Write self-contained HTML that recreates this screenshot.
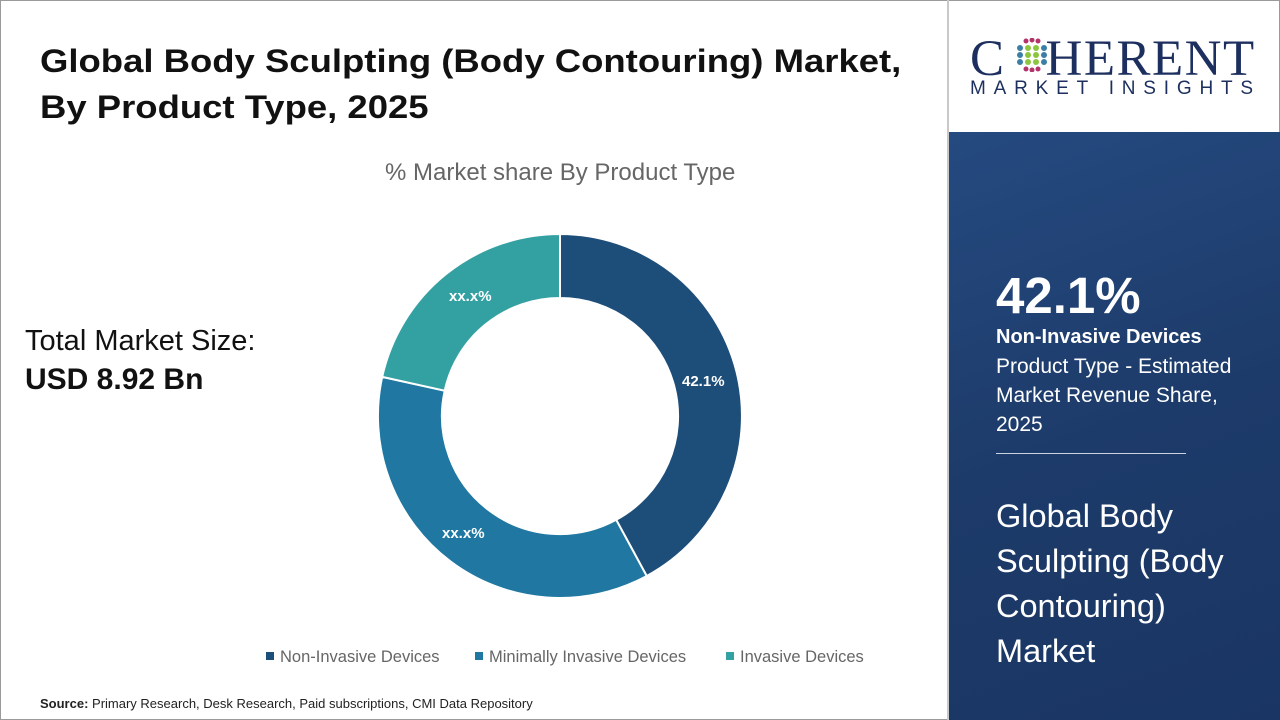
<!DOCTYPE html>
<html><head><meta charset="utf-8"><style>
body{margin:0;width:1280px;height:720px;overflow:hidden;background:#fff;font-family:"Liberation Sans","DejaVu Sans",sans-serif;position:relative}
.frame{position:absolute;left:0;top:0;width:1278px;height:718px;border:1px solid #9a9a9a}
.t{position:absolute;white-space:nowrap}
.right{position:absolute;left:949px;top:132px;width:331px;height:588px;background:linear-gradient(160deg,#254a80 0%,#1d3b6a 50%,#1a3563 100%)}
.sep{position:absolute;left:947px;top:0;width:2px;height:720px;background:#c8c8c8}
</style></head><body>
<div class="frame"></div>
<div class="sep"></div>
<div class="t" style="left:40px;top:38px;font-size:32px;font-weight:bold;color:#111;line-height:46px;transform:scaleX(1.14);transform-origin:0 0">Global Body Sculpting (Body Contouring) Market,<br>By Product Type, 2025</div>
<div class="t" style="left:385px;top:159px;font-size:24px;color:#666">% Market share By Product Type</div>
<div class="t" style="left:25px;top:325px;font-size:29px;color:#111">Total Market Size:</div>
<div class="t" style="left:25px;top:363px;font-size:30px;font-weight:bold;color:#111">USD 8.92 Bn</div>
<svg style="position:absolute;left:0;top:0" width="948" height="720">
<path d="M560,234 A182,182 0 0 1 646.7,576 L616.2,519.8 A118,118 0 0 0 560,298 Z" fill="#1d4e79" stroke="#fff" stroke-width="2"/>
<path d="M646.7,576 A182,182 0 0 1 382.2,376.9 L444.7,390.7 A118,118 0 0 0 616.2,519.8 Z" fill="#1f77a2" stroke="#fff" stroke-width="2"/>
<path d="M382.2,376.9 A182,182 0 0 1 560,234 L560,298 A118,118 0 0 0 444.7,390.7 Z" fill="#33a0a2" stroke="#fff" stroke-width="2"/>
<g font-family="Liberation Sans,sans-serif" font-weight="bold" font-size="15" fill="#fff">
<text x="682" y="386">42.1%</text>
<text x="449" y="301">xx.x%</text>
<text x="442" y="538">xx.x%</text>
</g>
<g font-family="Liberation Sans,sans-serif" font-size="16.5" fill="#666">
<rect x="266" y="652" width="8" height="8" fill="#1d4e79"/><text x="280" y="662">Non-Invasive Devices</text>
<rect x="475" y="652" width="8" height="8" fill="#1f77a2"/><text x="489" y="662">Minimally Invasive Devices</text>
<rect x="726" y="652" width="8" height="8" fill="#33a0a2"/><text x="740" y="662">Invasive Devices</text>
</g>
<text x="40" y="708" font-family="Liberation Sans,sans-serif" font-size="13" fill="#222"><tspan font-weight="bold">Source:</tspan> Primary Research, Desk Research, Paid subscriptions, CMI Data Repository</text>
</svg>
<div class="t" style="left:970px;top:30px;font-family:'Liberation Serif',serif;font-size:51px;color:#1c2f5e;letter-spacing:1.5px">C<span style="display:inline-block;width:40px"></span>HERENT</div>
<svg style="position:absolute;left:1012px;top:38px" width="40" height="34">
<g fill="#3c7fa6"><circle cx="8" cy="10" r="3"/><circle cx="8" cy="17" r="3"/><circle cx="8" cy="24" r="3"/><circle cx="32" cy="10" r="3"/><circle cx="32" cy="17" r="3"/><circle cx="32" cy="24" r="3"/></g>
<g fill="#8cc63e"><circle cx="16" cy="10" r="3"/><circle cx="24" cy="10" r="3"/><circle cx="16" cy="17" r="3"/><circle cx="24" cy="17" r="3"/><circle cx="16" cy="24" r="3"/><circle cx="24" cy="24" r="3"/></g>
<g fill="#b4336b"><circle cx="14" cy="3" r="2.5"/><circle cx="20" cy="2" r="2.5"/><circle cx="26" cy="3" r="2.5"/><circle cx="14" cy="31" r="2.5"/><circle cx="20" cy="32" r="2.5"/><circle cx="26" cy="31" r="2.5"/></g>
</svg>
<div class="t" style="left:970px;top:78px;font-size:19px;color:#1c2f5e;letter-spacing:7.8px">MARKET INSIGHTS</div>
<div class="right"></div>
<div class="t" style="left:996px;top:266px;font-size:51px;font-weight:bold;color:#fff">42.1%</div>
<div class="t" style="left:996px;top:326px;font-size:20px;font-weight:bold;color:#fff">Non-Invasive Devices</div>
<div class="t" style="left:996px;top:352px;font-size:21px;color:#fff;line-height:29px">Product Type - Estimated<br>Market Revenue Share,<br>2025</div>
<div style="position:absolute;left:996px;top:453px;width:190px;height:1px;background:#c9d3e2"></div>
<div class="t" style="left:996px;top:494px;font-size:32.5px;color:#fff;line-height:45px">Global Body<br>Sculpting (Body<br>Contouring)<br>Market</div>
</body></html>
